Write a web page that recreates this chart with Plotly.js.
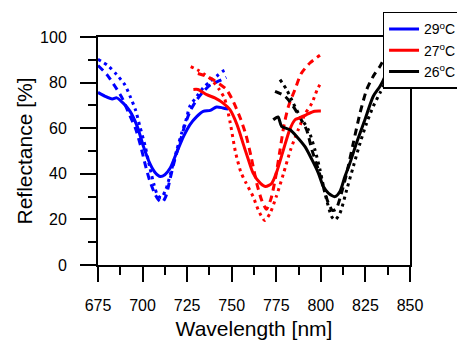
<!DOCTYPE html>
<html>
<head>
<meta charset="utf-8">
<script src="https://cdn.plot.ly/plotly-3.0.1.min.js"></script>
<style>html,body{margin:0;padding:0;background:#fff;}#chart{width:457px;height:340px;}</style>
</head>
<body>
<div id="chart"></div>
<script>
// 29 °C
var blueSolidX = [675,679,683,685.5,689,693,697,700.5,704,707,710,712.5,715.5,719,723,726.5,730.5,734,738,741.5,745,748];
var blueSolidY = [75.7,74,72.8,73.3,71.1,67.4,60.8,52,44.7,40.6,38.8,39.6,42.5,49.1,56.4,61.5,65.2,67.4,67.8,69.3,68.9,68.4];
var blueDashX = [675,680,684.5,688.5,692,696,699,701.5,704,707,709,711,713,715.5,718,721,724,727,730,734,738,742.5,747];
var blueDashY = [87.5,83.5,78.4,73.3,67,60,52,44,37,31,28.5,27.5,30,38,46,54,62,68,72,76,79,80.6,82.3];
var blueDotX = [675,680.5,685.5,690,693,696,698.5,701.5,704,706.5,708.5,710.5,713,716,719,722,724.5,726.5,730.5,734,738,741.5,745,748];
var blueDotY = [90.2,87.5,83.5,79.1,74,68.1,60.8,52,43,35,30.5,29.5,33,41,50,58,64,69.6,74,77.7,80.6,82.8,85,86];
// 27 °C
var redSolidX = [728.5,731,736,740.5,745,749,753,756.5,759,762,766,769,772.5,775,779,782.5,785.5,788,792,796.5,800];
var redSolidY = [77,77,74.7,73.3,71.1,68.1,61.5,53,47,40.3,35.9,34.4,35.9,40.3,50.5,59.3,63.7,64.5,66,67.4,67.5];
var redDashX = [731,735,739,743,747,751,755,758,761,764,767,769.5,772,774.5,777,779.5,782,785.5,789,794,799.5];
var redDashY = [84,83,81.5,79.5,77,71.5,64,57,47,36,28,24.5,29,38,50,62,70,77,84,88.7,92];
var redDotX = [727,731,735,739,743,746,749,752,755,758,762,765,768.5,771.5,775,779,783,787.3,791,795,798,800.5];
var redDotY = [87,85.5,83.5,81,77,73,63,50,41,36,30,24,19.5,22.7,30,40,50.5,59.3,66,71,77,80.6];
// 26 °C
var blackSolidX = [773.3,776,778,782.7,786.4,791,795,798.6,801.4,804.2,808,810.7,813.5,816.3,820,824.7,829.4,833.2,836,838,841];
var blackSolidY = [63.7,64.9,60.8,59.3,56.4,52,46.2,40.3,34.4,31.5,30,32.2,38.8,44.7,53.5,63.7,74,78.4,82.8,87.2,90];
var blackDashX = [774.3,779.9,784.5,788,792,795,798.6,801.4,804.2,806.5,808.5,811,814.5,818.2,822,825.7,829.4,833.2,836,839];
var blackDashY = [76.2,74,69.6,65,59.3,50.5,41.8,34.4,27.1,24,24.5,30,40.3,53.5,66.7,76.9,82.8,87.2,91,93];
var blackDotX = [777.1,780.8,784.5,788.3,793,796.7,799.5,802.3,806.1,808,810.7,814.5,818.2,822,825.7,829.4,833.2,836,840];
var blackDotY = [81.3,76.9,71,65.2,59.3,50.5,41.8,31.5,21.2,19.8,22.7,33,43.2,53.5,62.3,69.6,75.5,79.9,86];

var legendNames = ['29<sup>o</sup>C','27<sup>o</sup>C','26<sup>o</sup>C'];
var xTicks = [675,700,725,750,775,800,825,850];
var yTicks = [0,20,40,60,80,100];

var DASH = '7px,5px', DOT = '3px,4px';
function tr(x, y, color, dash, name, show) {
  return {x: x, y: y, type: 'scatter', mode: 'lines', name: name || ' ', showlegend: !!show,
    line: {color: color, width: 3, dash: dash, shape: 'spline', smoothing: 0.7}};
}
var data = [
  tr(blueDashX, blueDashY, '#0000ff', DASH),
  tr(blueDotX, blueDotY, '#0000ff', DOT),
  tr(redDashX, redDashY, '#ff0000', DASH),
  tr(redDotX, redDotY, '#ff0000', DOT),
  tr(blackDashX, blackDashY, '#000000', DASH),
  tr(blackDotX, blackDotY, '#000000', DOT),
  tr(blueSolidX, blueSolidY, '#0000ff', 'solid', legendNames[0], true),
  tr(redSolidX, redSolidY, '#ff0000', 'solid', legendNames[1], true),
  tr(blackSolidX, blackSolidY, '#000000', 'solid', legendNames[2], true)
];
var F = 'Arial, "Liberation Sans", sans-serif';
var layout = {
  width: 457, height: 340,
  margin: {l: 98, r: 47, t: 37, b: 75, autoexpand: false},
  paper_bgcolor: '#fff', plot_bgcolor: '#fff',
  font: {family: F, color: '#000', size: 16},
  showlegend: true,
  legend: {x: 0.912, y: 1.11, xanchor: 'left', yanchor: 'top', bgcolor: '#fff',
    bordercolor: '#000', borderwidth: 1.5, font: {family: F, size: 14, color: '#000'},
    traceorder: 'normal'},
  xaxis: {range: [675, 850], tickvals: xTicks, ticktext: xTicks.map(String), ticks: 'outside', ticklen: 15, tickwidth: 2,
    tickcolor: '#000', showline: true, linecolor: '#000', linewidth: 2, mirror: true, showgrid: false, zeroline: false,
    ticklabelstandoff: 10, tickfont: {size: 16},
    minor: {dtick: 12.5, tick0: 675, ticks: 'outside', ticklen: 8, tickwidth: 2, tickcolor: '#000', showgrid: false},
    title: {text: 'Wavelength [nm]', font: {size: 21}, standoff: 11}},
  yaxis: {range: [0, 100], tickvals: yTicks, ticktext: yTicks.map(String), ticks: 'outside', ticklen: 16, tickwidth: 2,
    tickcolor: '#000', showline: true, linecolor: '#000', linewidth: 2, mirror: true, showgrid: false, zeroline: false,
    ticklabelstandoff: 10, tickfont: {size: 16},
    minor: {dtick: 10, tick0: 0, ticks: 'outside', ticklen: 8, tickwidth: 2, tickcolor: '#000', showgrid: false},
    title: {text: 'Reflectance [%]', font: {size: 21}, standoff: 2}}
};
Plotly.newPlot('chart', data, layout, {displayModeBar: false, staticPlot: true});
</script>
</body>
</html>
